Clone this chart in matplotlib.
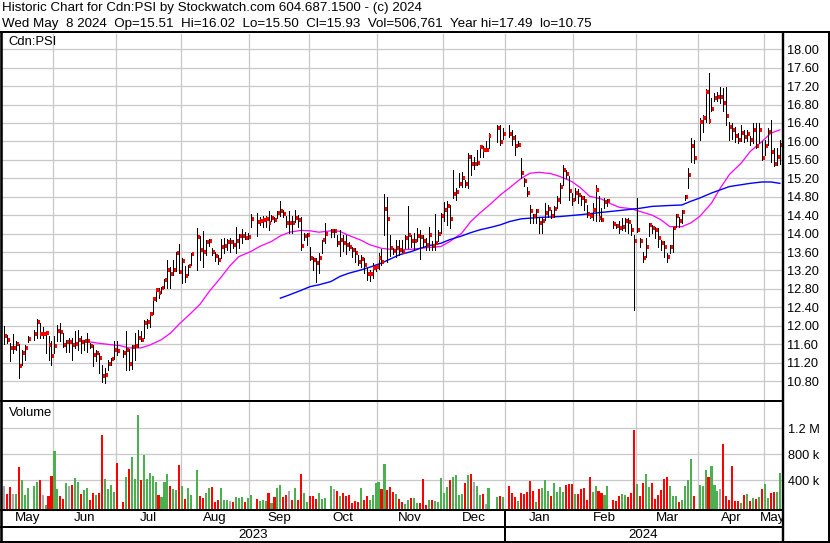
import numpy as np
import pandas as pd
import matplotlib
matplotlib.use("Agg")
import matplotlib.pyplot as plt
from matplotlib.lines import Line2D

plt.rcParams['font.family'] = ['Liberation Sans', 'DejaVu Sans']

# ---------------- data ----------------
first_day, last_day = "2023-05-09", "2024-05-08"
holidays = ["2023-05-22", "2023-07-03", "2023-08-07", "2023-09-04", "2023-10-09",
            "2023-12-25", "2023-12-26", "2024-01-01", "2024-02-19", "2024-03-29"]

close = [
    11.77, 11.70, 11.52, 11.52, 11.61, 11.13, 11.42, 11.52, 11.72, 11.83, 12.09, 11.83, 11.83, 11.85, 11.59, 11.35,  # May 23
    11.57, 11.89, 11.87, 11.59, 11.64, 11.64, 11.59, 11.60, 11.70, 11.64, 11.66, 11.67, 11.57, 11.37, 11.41, 11.31, 10.91, 10.94, 11.18, 11.28, 11.48, 11.45,  # Jun
    11.42, 11.48, 11.18, 11.54, 11.57, 11.73, 11.70, 12.06, 12.09, 12.25, 12.58, 12.78, 12.72, 12.82, 13.00, 13.20, 13.13, 13.20, 13.58, 13.16,  # Jul
    13.40, 13.09, 13.30, 13.55, 13.92, 13.65, 13.60, 13.81, 13.83, 13.59, 13.52, 13.43, 13.70, 13.74, 13.81, 13.81, 13.76, 13.83, 13.94, 13.95, 13.90, 13.92,  # Aug
    14.32, 14.26, 14.28, 14.30, 14.32, 14.24, 14.33, 14.30, 14.44, 14.50, 14.43, 14.24, 14.24, 14.22, 14.33, 14.30, 13.74, 13.94, 13.97, 13.48,  # Sep
    13.43, 13.36, 13.47, 13.86, 13.99, 14.05, 14.05, 13.80, 13.87, 13.80, 13.76, 13.71, 13.64, 13.57, 13.39, 13.44, 13.32, 13.12, 13.13, 13.25, 13.27,  # Oct
    13.46, 13.39, 14.54, 14.31, 13.68, 13.62, 13.68, 13.65, 13.61, 13.90, 13.97, 13.83, 13.85, 13.94, 13.92, 13.83, 13.76, 13.97, 13.74, 13.79, 14.00, 14.39,  # Nov
    14.52, 14.59, 14.31, 14.86, 14.91, 15.08, 15.20, 15.08, 15.66, 15.50, 15.50, 15.54, 15.87, 15.82, 15.82, 16.12, 16.29, 15.98, 16.17,  # Dec
    16.15, 16.07, 15.89, 15.93, 15.32, 15.15, 14.89, 14.49, 14.39, 14.48, 14.23, 14.28, 14.44, 14.54, 14.39, 14.53, 14.72, 15.00, 15.38, 15.30, 14.93, 14.73,  # Jan 24
    14.89, 14.84, 14.78, 14.70, 14.42, 14.39, 14.52, 14.95, 14.34, 14.30, 14.68, 14.70, 14.20, 14.17, 14.13, 14.15, 14.28, 14.26, 14.08, 13.85,  # Feb
    14.08, 13.83, 13.46, 13.72, 14.19, 14.12, 14.07, 13.90, 13.79, 13.71, 13.50, 13.71, 14.12, 14.39, 14.28, 14.46, 14.79, 15.28, 15.89, 15.65,  # Mar
    16.43, 16.50, 17.08, 16.45, 16.71, 16.95, 16.97, 16.97, 16.84, 16.56, 16.32, 16.24, 16.11, 16.03, 16.19, 16.09, 16.16, 16.02, 16.25, 15.89, 16.25, 15.64,  # Apr
    15.91, 16.21, 15.78, 15.51, 15.67, 15.93,  # May 24
]
high = [
    11.99, 11.80, 11.62, 11.83, 11.68, 11.61, 11.48, 11.59, 11.77, 11.91, 12.14, 12.06, 11.97, 11.87, 11.77, 11.66,
    11.77, 12.02, 12.07, 11.84, 11.70, 11.73, 11.73, 11.88, 11.91, 11.77, 11.70, 11.84, 11.62, 11.59, 11.48, 11.41, 11.15, 11.08, 11.26, 11.30, 11.67, 11.66,
    11.48, 11.88, 11.49, 11.59, 11.84, 11.91, 11.88, 12.13, 12.14, 12.27, 12.60, 12.82, 12.82, 12.85, 13.01, 13.42, 13.27, 13.43, 13.61, 13.77,
    13.47, 13.29, 13.32, 13.58, 14.12, 13.94, 14.05, 13.87, 13.88, 13.69, 13.61, 13.54, 13.88, 13.90, 13.88, 13.90, 13.87, 14.14, 14.00, 14.10, 14.04, 14.01,
    14.43, 14.45, 14.36, 14.38, 14.38, 14.48, 14.40, 14.37, 14.50, 14.70, 14.52, 14.38, 14.50, 14.38, 14.51, 14.40, 14.35, 14.01, 14.01, 13.72,
    13.50, 13.47, 13.58, 13.87, 14.22, 14.10, 14.10, 13.96, 14.08, 13.96, 13.96, 13.82, 13.71, 13.68, 13.53, 13.53, 13.47, 13.25, 13.22, 13.36, 13.30,
    13.57, 13.67, 14.86, 14.80, 13.97, 13.69, 13.87, 13.87, 13.87, 13.97, 14.59, 13.97, 14.01, 14.12, 14.07, 13.97, 13.90, 14.15, 13.83, 14.43, 14.08, 14.44,
    14.68, 14.70, 14.61, 15.38, 14.99, 15.31, 15.33, 15.17, 15.74, 15.71, 15.67, 15.82, 15.91, 15.89, 16.00, 16.18, 16.35, 16.35, 16.30,
    16.35, 16.24, 16.13, 16.00, 15.63, 15.20, 15.02, 14.62, 14.43, 14.53, 14.37, 14.34, 14.66, 14.62, 14.52, 14.59, 14.81, 15.09, 15.49, 15.38, 15.24, 14.88,
    14.99, 14.96, 14.84, 14.81, 14.62, 14.43, 14.66, 15.06, 14.81, 14.55, 14.77, 14.74, 14.28, 14.20, 14.28, 14.34, 14.34, 14.34, 14.20, 13.97,
    14.77, 13.90, 13.61, 13.90, 14.23, 14.19, 14.15, 14.12, 13.87, 13.83, 13.58, 13.76, 14.15, 14.43, 14.37, 14.52, 14.84, 15.42, 16.07, 16.03,
    16.50, 16.58, 17.13, 17.49, 16.94, 17.05, 17.08, 17.18, 17.15, 17.18, 16.43, 16.40, 16.32, 16.18, 16.36, 16.24, 16.25, 16.12, 16.40, 16.41, 16.40, 16.00,
    16.03, 16.29, 16.47, 15.85, 15.85, 16.02,
]
low = [
    11.61, 11.63, 11.23, 11.41, 11.48, 10.86, 11.15, 11.26, 11.64, 11.70, 11.73, 11.73, 11.73, 11.41, 11.26, 11.15,
    11.41, 11.66, 11.66, 11.54, 11.44, 11.44, 11.26, 11.52, 11.48, 11.41, 11.48, 11.44, 11.52, 11.12, 11.23, 10.97, 10.79, 10.75, 11.04, 11.15, 11.28, 11.37,
    11.33, 11.04, 11.04, 11.06, 11.26, 11.55, 11.66, 11.73, 11.95, 11.98, 12.26, 12.53, 12.60, 12.71, 12.82, 12.82, 12.82, 13.11, 13.18, 13.14,
    12.93, 12.96, 13.11, 13.32, 13.21, 13.43, 13.27, 13.54, 13.74, 13.54, 13.40, 13.35, 13.47, 13.58, 13.65, 13.61, 13.69, 13.58, 13.69, 13.79, 13.88, 13.88,
    14.15, 13.94, 14.19, 14.15, 14.15, 14.08, 14.28, 14.26, 14.33, 14.39, 14.37, 14.15, 14.02, 14.01, 14.26, 14.15, 13.65, 13.86, 13.76, 13.43,
    13.21, 12.95, 13.15, 13.58, 13.80, 13.93, 13.93, 13.74, 13.52, 13.63, 13.56, 13.64, 13.50, 13.39, 13.32, 13.27, 13.14, 13.00, 12.98, 13.04, 13.18,
    13.24, 13.32, 13.98, 13.38, 13.51, 13.55, 13.50, 13.54, 13.61, 13.68, 13.68, 13.72, 13.65, 13.83, 13.45, 13.72, 13.65, 13.65, 13.65, 13.65, 13.83, 14.01,
    14.28, 14.19, 14.12, 14.77, 14.73, 15.01, 15.02, 15.01, 14.99, 15.27, 15.40, 15.49, 15.67, 15.67, 15.80, 15.85, 15.98, 15.93, 16.05,
    16.10, 15.93, 15.71, 15.89, 15.20, 15.04, 14.81, 14.23, 14.23, 14.23, 14.01, 14.01, 14.30, 14.37, 14.34, 14.37, 14.55, 14.66, 15.06, 15.20, 14.73, 14.62,
    14.73, 14.66, 14.62, 14.52, 14.37, 14.34, 14.30, 14.27, 14.27, 14.27, 14.55, 14.60, 14.13, 14.13, 14.01, 14.08, 14.06, 14.01, 13.97, 12.35,
    14.04, 13.72, 13.39, 13.50, 13.94, 14.01, 13.90, 13.72, 13.65, 13.50, 13.38, 13.58, 13.59, 14.15, 14.15, 14.23, 14.73, 14.99, 15.56, 15.53,
    16.03, 16.21, 16.43, 16.40, 16.65, 16.87, 16.87, 16.83, 16.65, 16.36, 16.03, 16.05, 15.98, 15.96, 16.00, 15.98, 16.00, 15.93, 15.96, 15.85, 15.96, 15.60,
    15.71, 15.93, 15.56, 15.47, 15.49, 15.50,
]
volume_k = [
    308, 184, 287, 184, 184, 607, 401, 169, 277, 308, 370, 401, 169, 14, 153, 463,
    850, 262, 153, 107, 354, 308, 323, 432, 370, 184, 246, 277, 91, 200, 169, 200, 1097, 416, 262, 323, 215, 664,
    60, 447, 571, 757, 416, 1407, 401, 788, 416, 509, 463, 370, 169, 138, 370, 494, 308, 262, 246, 633,
    308, 107, 277, 169, 556, 153, 122, 200, 277, 292, 60, 91, 277, 91, 91, 76, 60, 138, 122, 138, 60, 122,
    169, 107, 76, 91, 76, 200, 45, 138, 277, 323, 138, 169, 231, 91, 277, 91, 494, 200, 60, 153,
    153, 107, 200, 107, 122, 308, 262, 231, 153, 200, 153, 169, 45, 76, 60, 277, 91, 153, 91, 169, 354,
    370, 262, 648, 246, 287, 215, 184, 107, 60, 29, 91, 122, 122, 45, 50, 416, 10, 91, 91, 76, 60, 432,
    200, 292, 401, 447, 478, 169, 184, 354, 478, 494, 370, 308, 169, 184, 29, 277, 138, 153, 138,
    308, 200, 138, 76, 200, 184, 215, 385, 231, 60, 262, 277, 401, 231, 153, 354, 215, 292, 215, 323, 339, 339,
    184, 184, 262, 277, 91, 447, 215, 308, 231, 200, 169, 308, 91, 76, 153, 184, 169, 138, 200, 1174,
    339, 153, 354, 494, 292, 354, 107, 169, 246, 416, 447, 308, 153, 153, 60, 91, 308, 401, 726, 150,
    323, 308, 556, 447, 617, 323, 231, 262, 958, 153, 91, 617, 76, 76, 45, 169, 184, 76, 122, 107, 138, 262,
    339, 122, 200, 215, 215, 507,
]

# moving averages, sampled: weekday number since first_day -> value
ma_short_day = [29, 32, 36, 39, 42, 46, 49, 53, 56, 59, 63, 66, 69, 73, 76, 79, 83, 86, 90, 93, 96, 100,
                103, 106, 110, 113, 116, 120, 123, 127, 130, 133, 137, 140, 143, 147, 150, 154, 157, 160,
                164, 167, 170, 174, 177, 180, 184, 187, 191, 194, 197, 201, 204, 207, 211, 214, 218, 221,
                224, 228, 231, 234, 238, 241, 244, 248, 251, 255, 258, 261]
ma_short_val = [11.65, 11.62, 11.59, 11.57, 11.52, 11.52, 11.58, 11.70, 11.84, 12.04, 12.28, 12.47, 12.74,
                13.05, 13.30, 13.50, 13.61, 13.72, 13.83, 13.95, 14.03, 14.07, 14.06, 14.03, 14.06, 14.05,
                13.96, 13.86, 13.76, 13.68, 13.66, 13.65, 13.66, 13.68, 13.70, 13.72, 13.83, 14.01, 14.26,
                14.44, 14.66, 14.84, 14.99, 15.20, 15.31, 15.33, 15.30, 15.24, 15.13, 14.99, 14.81, 14.75,
                14.65, 14.57, 14.54, 14.48, 14.40, 14.30, 14.15, 14.15, 14.23, 14.37, 14.66, 14.99, 15.28,
                15.53, 15.78, 16.00, 16.18, 16.25]
ma_long_day = [93, 96, 100, 103, 106, 110, 113, 116, 120, 123, 127, 130, 133, 137, 140, 143, 147, 150,
               154, 157, 160, 164, 167, 170, 174, 180, 187, 194, 201, 207, 214, 218, 224, 228, 231, 234,
               238, 241, 244, 248, 251, 255, 258, 261]
ma_long_val = [12.60, 12.67, 12.77, 12.85, 12.89, 12.96, 13.07, 13.14, 13.21, 13.27, 13.36, 13.45, 13.54,
               13.61, 13.68, 13.74, 13.79, 13.87, 13.95, 14.02, 14.08, 14.14, 14.19, 14.26, 14.32, 14.35,
               14.37, 14.41, 14.46, 14.50, 14.55, 14.59, 14.61, 14.62, 14.70, 14.77, 14.88, 14.95, 15.02,
               15.06, 15.09, 15.12, 15.12, 15.09]

price_ticks = [10.8 + 0.4 * i for i in range(19)]
vol_ticks_k = [400, 800, 1200]
vol_tick_labels = ["400 k", "800 k", "1.2 M"]

title1 = "Historic Chart for Cdn:PSI by Stockwatch.com 604.687.1500 - (c) 2024"
title2 = ("Wed May  8 2024  Op=15.51  Hi=16.02  Lo=15.50  Cl=15.93  Vol=506,761  "
          "Year hi=17.49  lo=10.75")

# ---------------- layout ----------------
W, H = 830, 543
fig = plt.figure(figsize=(W / 100, H / 100), dpi=100)
fig.patch.set_facecolor("white")

def fr(x0, y0, x1, y1):
    return [x0 / W, (H - y1) / H, (x1 - x0) / W, (y1 - y0) / H]

GRID = "#c8c8c8"
GREEN = "#4cb050"
RED = "#ff0000"
GRAY = "#a8a8a8"

wd = pd.bdate_range(first_day, last_day)
tdays = wd[~wd.isin(pd.to_datetime(holidays))]
xpos = wd.get_indexer(tdays)
n = len(tdays)
for name, arr in [("close", close), ("high", high), ("low", low), ("volume", volume_k)]:
    if len(arr) != n:
        raise ValueError(f"{name} has {len(arr)} values, expected {n}")

XL = (-0.65, 261.55)

# month boundaries
months = pd.date_range("2023-06-01", "2024-05-01", freq="MS")
grid_x = []
for d in months:
    i = wd.searchsorted(d)
    if d.weekday() >= 5:
        i -= 1
    grid_x.append(i - 0.45)
jan_x = grid_x[list(months).index(pd.Timestamp("2024-01-01"))]

ax_p = fig.add_axes(fr(2, 34, 781.5, 400))
ax_v = fig.add_axes(fr(2, 402, 781.5, 509))
ax_m = fig.add_axes(fr(2, 510, 781.5, 526))
ax_y = fig.add_axes(fr(2, 528, 781.5, 541))
ov = fig.add_axes([0, 0, 1, 1], zorder=10)
ov.set_xlim(0, W); ov.set_ylim(H, 0); ov.axis("off"); ov.patch.set_alpha(0)

for a in (ax_p, ax_v, ax_m, ax_y):
    a.set_xlim(*XL)
    a.set_frame_on(False)
    a.set_xticks([])

# price panel
ax_p.set_ylim(10.39, 18.33)
for t in price_ticks:
    ax_p.axhline(t, color=GRID, lw=0.9, zorder=0)
for g in grid_x:
    ax_p.axvline(g, color=GRID, lw=0.9, zorder=0)
ax_p.plot(ma_short_day, ma_short_val, color="#ff00ff", lw=0.9, zorder=2)
ax_p.plot(ma_long_day, ma_long_val, color="#0000ff", lw=1.0, zorder=2)
ax_p.vlines(xpos, low, high, color="black", lw=0.7, zorder=3, antialiased=False)
ax_p.hlines(close, xpos + 0.3, xpos + 1.0, color=RED, lw=1.6, zorder=4, antialiased=False)
ax_p.yaxis.tick_right()
ax_p.set_yticks(price_ticks)
ax_p.set_yticklabels([f"{t:.2f}" for t in price_ticks])
ax_p.tick_params(axis="y", length=0, pad=4.2, labelsize=9.2)

# volume panel
VB = -48
c = np.array(close)
chg = np.diff(c, prepend=np.nan)
vcol = np.where(chg > 1e-9, GREEN, np.where(chg < -1e-9, RED, GRAY))
ax_v.set_ylim(VB, 1608)
for t in vol_ticks_k:
    ax_v.axhline(t, color=GRID, lw=0.9, zorder=0)
for g in grid_x:
    ax_v.axvline(g, color=GRID, lw=0.9, zorder=0)
ax_v.bar(xpos, np.array(volume_k) - VB, bottom=VB, width=0.7, color=vcol, zorder=3,
         linewidth=0, antialiased=False)
ax_v.yaxis.tick_right()
ax_v.set_yticks(vol_ticks_k)
ax_v.set_yticklabels(vol_tick_labels)
ax_v.tick_params(axis="y", length=0, pad=4.6, labelsize=9.2)

# month and year rows
bounds = [XL[0]] + grid_x + [XL[1]]
names = ["May"] + [d.strftime("%b") for d in months]
ax_m.set_ylim(0, 1); ax_y.set_ylim(0, 1)
ax_m.set_yticks([]); ax_y.set_yticks([])
for i, nm in enumerate(names):
    ax_m.text((bounds[i] + bounds[i + 1]) / 2, 0.5, nm, ha="center", va="center",
              fontsize=9.6, clip_on=True)
ax_y.text((XL[0] + jan_x) / 2, 0.45, "2023", ha="center", va="center", fontsize=9.6)
ax_y.text((jan_x + XL[1]) / 2, 0.45, "2024", ha="center", va="center", fontsize=9.6)

# frame lines (pixel coords)
def pline(x0, y0, x1, y1, w=2.0):
    ov.add_line(Line2D([x0, x1], [y0, y1], color="black", lw=w * 0.72,
                       solid_capstyle="butt"))

pline(0, 32, W, 32)
pline(1.2, 31, 1.2, H, 2.6)
pline(783, 31, 783, H, 2.4)
pline(W - 1, 31, W - 1, H)
pline(0, 401, 783, 401)
pline(0, 510, 783, 510)
pline(0, 527, 783, 527)
pline(0, H - 1, W, H - 1)
jx = ax_m.transData.transform((jan_x, 0))[0] * W / fig.bbox.width
pline(jx, 510, jx, H)

# texts
ov.text(2, 8.5, title1, fontsize=9.6, ha="left", va="center")
ov.text(2, 23.5, title2, fontsize=9.6, ha="left", va="center")
ov.text(8, 42, "Cdn:PSI", fontsize=9.4, ha="left", va="center")
ov.text(9, 413, "Volume", fontsize=9.4, ha="left", va="center")

fig.savefig("out.png", dpi=100, facecolor="white")
